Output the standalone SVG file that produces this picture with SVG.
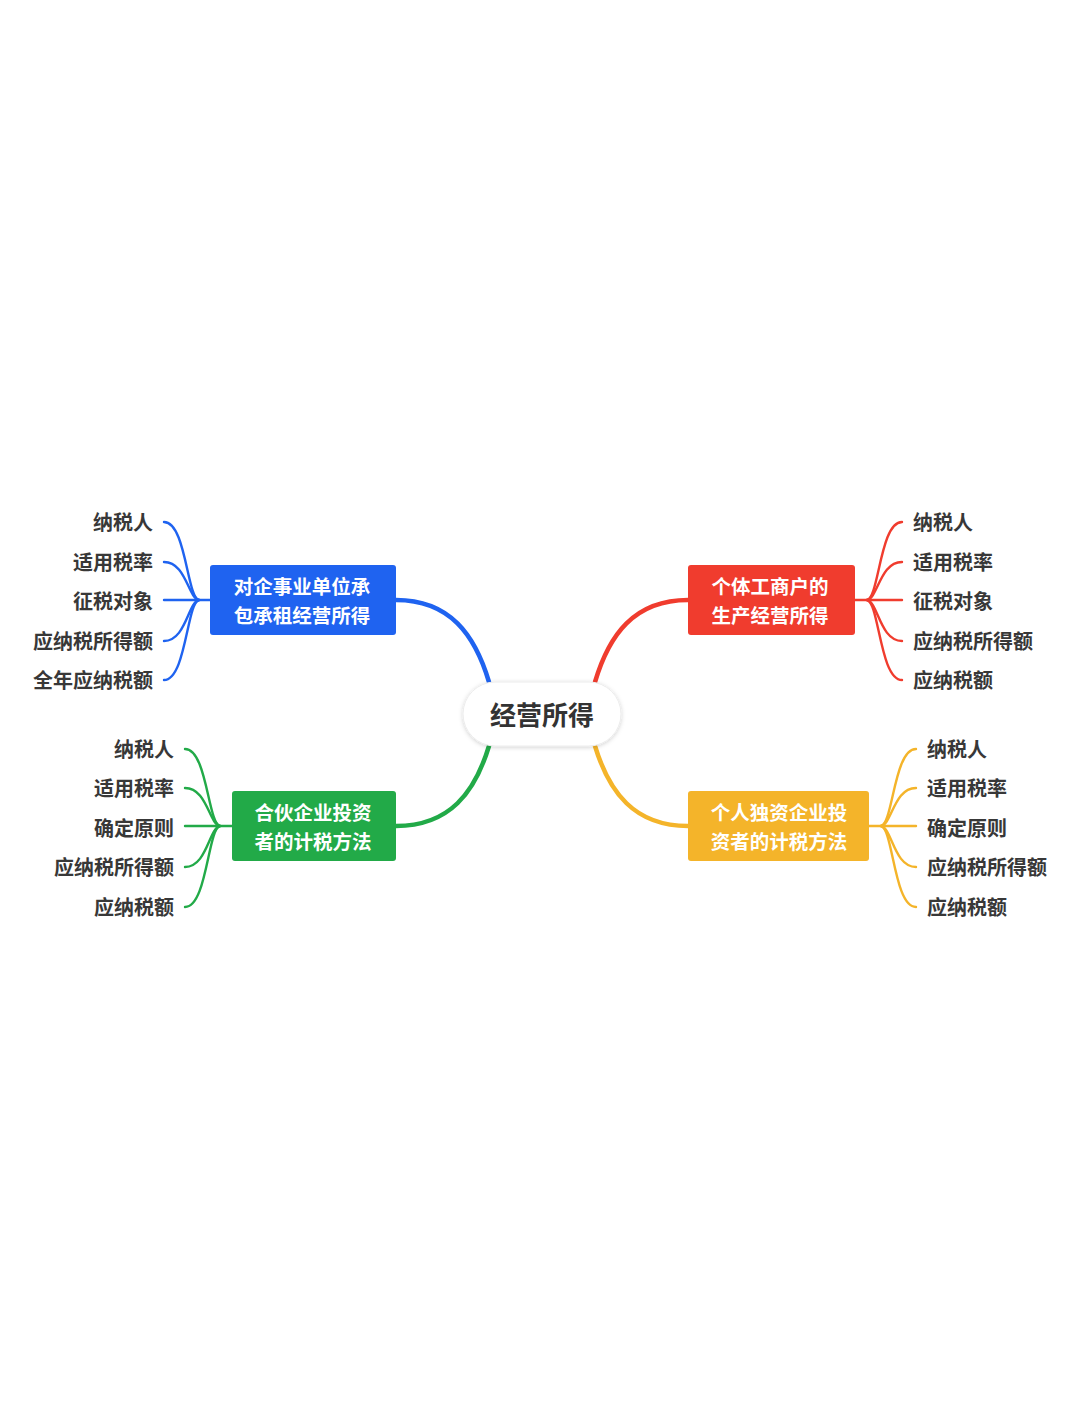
<svg xmlns="http://www.w3.org/2000/svg" width="1080" height="1427" viewBox="0 0 1080 1427">
<defs>
<filter id="sh" x="-20%" y="-30%" width="140%" height="160%">
<feDropShadow dx="0" dy="1" stdDeviation="2" flood-color="#000" flood-opacity="0.18"/>
</filter>
</defs>
<style>
.t{font-family:"Noto Sans CJK SC","Noto Sans",sans-serif;font-weight:700}
.leaf{font-size:20px;fill:#383838;dominant-baseline:central}
.nt{font-size:19.5px;fill:#fff;text-anchor:middle;dominant-baseline:central}
.c{fill:none;stroke-width:2.4;stroke-linecap:round}
.m{fill:none;stroke-width:4.5;stroke-linecap:round}
.b{stroke:#1F63F0}.r{stroke:#F03C2E}.g{stroke:#22AA48}.y{stroke:#F4B42A}
</style>
<rect width="1080" height="1427" fill="#fff"/>
<g id="connectors">
<path class="m b" d="M396,600 C450,600 475,635 489,682"/>
<path class="m r" d="M688,600 C634,600 609,635 595,682"/>
<path class="m g" d="M396,826 C450,826 475,792 489,746"/>
<path class="m y" d="M688,826 C634,826 609,792 595,746"/>
<path class="c b" d="M210,600 L199,600 C187,598 186,522 164,522"/>
<path class="c b" d="M199,600 C188,598 186,562 164,562"/>
<path class="c b" d="M199,600 L164,600"/>
<path class="c b" d="M199,600 C188,602 186,641 164,641"/>
<path class="c b" d="M199,600 C187,602 186,680 164,680"/>
<path class="c r" d="M855,600 L867,600 C879,598 880,522 902,522"/>
<path class="c r" d="M867,600 C878,598 880,562 902,562"/>
<path class="c r" d="M867,600 L902,600"/>
<path class="c r" d="M867,600 C878,602 880,641 902,641"/>
<path class="c r" d="M867,600 C879,602 880,680 902,680"/>
<path class="c g" d="M232,826 L220,826 C208,824 207,749 185,749"/>
<path class="c g" d="M220,826 C209,824 207,788 185,788"/>
<path class="c g" d="M220,826 L185,826"/>
<path class="c g" d="M220,826 C209,828 207,867 185,867"/>
<path class="c g" d="M220,826 C208,828 207,907 185,907"/>
<path class="c y" d="M869,826 L881,826 C893,824 894,749 916,749"/>
<path class="c y" d="M881,826 C892,824 894,788 916,788"/>
<path class="c y" d="M881,826 L916,826"/>
<path class="c y" d="M881,826 C892,828 894,867 916,867"/>
<path class="c y" d="M881,826 C893,828 894,907 916,907"/>
</g>
<g id="center">
<rect x="463" y="682" width="158" height="64" rx="32" fill="#fff" stroke="#ececec" stroke-width="1" filter="url(#sh)"/>
<text class="t" x="542" y="713" font-size="26" fill="#333" text-anchor="middle" dominant-baseline="central">经营所得</text>
</g>
<g id="node-blue">
<rect x="210" y="565" width="186" height="70" rx="3" fill="#1F63F0"/>
<text class="t nt" x="302" y="585.5">对企事业单位承</text>
<text class="t nt" x="302" y="614">包承租经营所得</text>
</g>
<g id="node-red">
<rect x="688" y="565" width="167" height="70" rx="3" fill="#F03C2E"/>
<text class="t nt" x="770" y="585.5">个体工商户的</text>
<text class="t nt" x="770" y="614">生产经营所得</text>
</g>
<g id="node-green">
<rect x="232" y="791" width="164" height="70" rx="3" fill="#22AA48"/>
<text class="t nt" x="313" y="811.5">合伙企业投资</text>
<text class="t nt" x="313" y="840">者的计税方法</text>
</g>
<g id="node-yellow">
<rect x="688" y="791" width="181" height="70" rx="3" fill="#F4B42A"/>
<text class="t nt" x="779" y="811.5">个人独资企业投</text>
<text class="t nt" x="779" y="840">资者的计税方法</text>
</g>
<g id="leaves-blue" text-anchor="end">
<text class="t leaf" x="153" y="521">纳税人</text>
<text class="t leaf" x="153" y="561">适用税率</text>
<text class="t leaf" x="153" y="600">征税对象</text>
<text class="t leaf" x="153" y="640">应纳税所得额</text>
<text class="t leaf" x="153" y="679">全年应纳税额</text>
</g>
<g id="leaves-red">
<text class="t leaf" x="913" y="521">纳税人</text>
<text class="t leaf" x="913" y="561">适用税率</text>
<text class="t leaf" x="913" y="600">征税对象</text>
<text class="t leaf" x="913" y="640">应纳税所得额</text>
<text class="t leaf" x="913" y="679">应纳税额</text>
</g>
<g id="leaves-green" text-anchor="end">
<text class="t leaf" x="174" y="748">纳税人</text>
<text class="t leaf" x="174" y="787">适用税率</text>
<text class="t leaf" x="174" y="827">确定原则</text>
<text class="t leaf" x="174" y="866">应纳税所得额</text>
<text class="t leaf" x="174" y="906">应纳税额</text>
</g>
<g id="leaves-yellow">
<text class="t leaf" x="927" y="748">纳税人</text>
<text class="t leaf" x="927" y="787">适用税率</text>
<text class="t leaf" x="927" y="827">确定原则</text>
<text class="t leaf" x="927" y="866">应纳税所得额</text>
<text class="t leaf" x="927" y="906">应纳税额</text>
</g>
</svg>
